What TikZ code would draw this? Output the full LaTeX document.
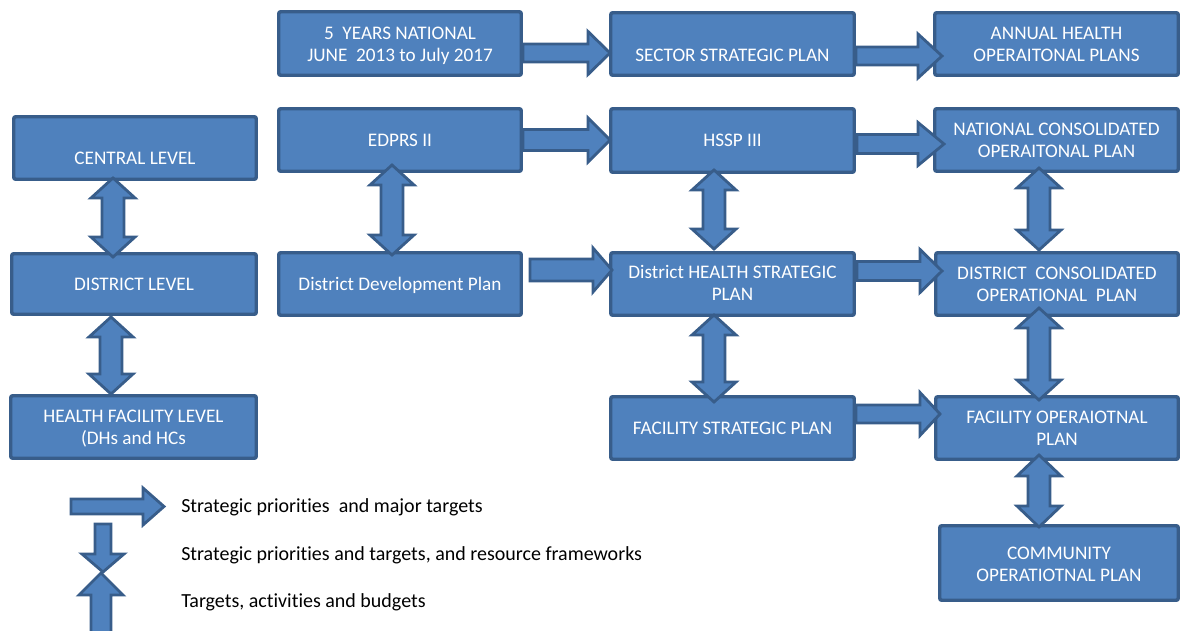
\documentclass[tikz,border=0pt]{standalone}
\usepackage{fontspec}
\setmainfont{Carlito}[Ligatures=NoCommon]
\usetikzlibrary{calc,fit}
\definecolor{bfill}{HTML}{4F81BD}
\definecolor{bline}{HTML}{385D8A}
% box: name, x1, y1, x2, y2, text y, text
\newcommand\bx[7]{%
  \node[box, fit={(#2+1.75,#3+1.75) (#4-1.75,#5-1.75)}] (#1) {};
  \node[lbl] (#1-t) at (#1.center |- 0,#6) {#7};}
% horizontal block arrow: from, to, y, start gap, tip overlap, head length, shaft half, head half
\newcommand\harr[8]{%
  \draw[barrow] ($(#1.east|-0,#3)+(#4,-#7)$) -- ($(#2.west|-0,#3)+(#5-#6,-#7)$)
    -- ($(#2.west|-0,#3)+(#5-#6,-#8)$) -- ($(#2.west|-0,#3)+(#5,0)$)
    -- ($(#2.west|-0,#3)+(#5-#6,#8)$) -- ($(#2.west|-0,#3)+(#5-#6,#7)$)
    -- ($(#1.east|-0,#3)+(#4,#7)$) -- cycle;}
% vertical double block arrow: top, bottom, x, top overlap, bottom overlap, head length, shaft half, head half
\newcommand\varr[8]{%
  \draw[barrow] ($(#3,0|-#1.south)+(0,-#4)$) -- ($(#3,0|-#1.south)+(#8,-#4+#6)$)
    -- ($(#3,0|-#1.south)+(#7,-#4+#6)$) -- ($(#3,0|-#2.north)+(#7,#5-#6)$)
    -- ($(#3,0|-#2.north)+(#8,#5-#6)$) -- ($(#3,0|-#2.north)+(0,#5)$)
    -- ($(#3,0|-#2.north)+(-#8,#5-#6)$) -- ($(#3,0|-#2.north)+(-#7,#5-#6)$)
    -- ($(#3,0|-#1.south)+(-#7,-#4+#6)$) -- ($(#3,0|-#1.south)+(-#8,-#4+#6)$) -- cycle;}
\begin{document}
\begin{tikzpicture}[x=0.75pt,y=-0.75pt,
  box/.style={draw=bline, fill=bfill, line width=2.6pt, inner sep=0pt, rounded corners=1.5pt},
  lbl/.style={text=white, font=\fontsize{14.4}{16.5}\selectfont, align=center, inner sep=0pt, text depth=0pt},
  barrow/.style={draw=bline, fill=bfill, line width=2.1pt, line join=miter},
  legtxt/.style={font=\fontsize{15}{18}\selectfont, anchor=base west, inner sep=0pt, text=black}]
\useasboundingbox (0,0) rectangle (1182,631);
\clip (0,0) rectangle (1182,631);

% boxes
\bx{y5}{277}{10}{523}{77}{44}{5\ \ YEARS NATIONAL\\JUNE\ \ 2013 to July 2017}
\bx{sec}{609}{11}{856}{77}{55}{SECTOR STRATEGIC PLAN}
\bx{ann}{933}{11}{1180}{77}{44}{ANNUAL HEALTH\\OPERAITONAL PLANS}
\bx{edp}{277}{107}{523}{173}{140}{EDPRS II}
\bx{hssp}{609}{107}{856}{174}{140}{HSSP III}
\bx{nat}{933}{107}{1180}{173}{140}{NATIONAL CONSOLIDATED\\OPERAITONAL PLAN}
\bx{cen}{12}{115}{258}{181}{158}{CENTRAL LEVEL}
\bx{dis}{10}{252}{258}{316}{284}{DISTRICT LEVEL}
\bx{ddp}{277}{251}{523}{317}{284}{District Development Plan}
\bx{dhs}{609}{251}{856}{317}{283}{District HEALTH STRATEGIC\\PLAN}
\bx{dcon}{934}{251}{1180}{317}{284}{DISTRICT\ \ CONSOLIDATED\\OPERATIONAL\ \ PLAN}
\bx{hf}{9}{394}{258}{460}{427}{HEALTH FACILITY LEVEL\\(DHs and HCs}
\bx{fstr}{609}{395}{856}{461}{428}{FACILITY STRATEGIC PLAN}
\bx{fop}{934}{395}{1180}{461}{428}{FACILITY OPERAIOTNAL\\PLAN}
\bx{com}{938}{524}{1180}{602}{564}{COMMUNITY\\OPERATIOTNAL PLAN}

% horizontal arrows
\harr{y5}{sec}{53}{0}{1}{22}{9}{21.5}
\harr{sec}{ann}{56}{0}{9}{24}{9}{22}
\harr{edp}{hssp}{140}{0}{1}{22}{10.5}{22}
\harr{hssp}{nat}{144}{1}{11}{26}{9.5}{21.5}
\harr{ddp}{dhs}{270}{7}{3}{19}{11}{22}
\harr{dhs}{dcon}{271}{1}{8}{22}{9.5}{21.5}
\harr{fstr}{fop}{414}{0}{6}{20}{9}{21.5}

% vertical double arrows
\varr{cen}{dis}{113}{3}{5}{20}{11}{22}
\varr{dis}{hf}{111}{-1}{0}{20}{11}{22}
\varr{edp}{ddp}{392}{8}{4}{20}{11}{22}
\varr{hssp}{dhs}{714}{4}{-2}{20}{11}{22}
\varr{nat}{dcon}{1039}{5}{-1}{20}{11}{22}
\varr{dhs}{fstr}{714}{2}{7}{20}{11}{22}
\varr{dcon}{fop}{1039}{9}{5}{20}{11}{22}
\varr{fop}{com}{1039}{6}{3}{21}{11}{22}

% legend
\draw[barrow] (71,499) -- (143,499) -- (143,488) -- (164,506.5) -- (143,525) -- (143,514) -- (71,514) -- cycle;
\draw[barrow] (95,524) -- (111,524) -- (111,554) -- (124,554) -- (103,572) -- (82,554) -- (95,554) -- cycle;
\draw[barrow] (101,573) -- (123,595) -- (111,595) -- (111,640) -- (91,640) -- (91,595) -- (79,595) -- cycle;
\node[legtxt] (l1) at (181,512) {Strategic priorities\ \ and major targets};
\node[legtxt] (l2) at (181,560) {Strategic priorities and targets, and resource frameworks};
\node[legtxt] (l3) at (181,607) {Targets, activities and budgets};
\end{tikzpicture}
\end{document}
